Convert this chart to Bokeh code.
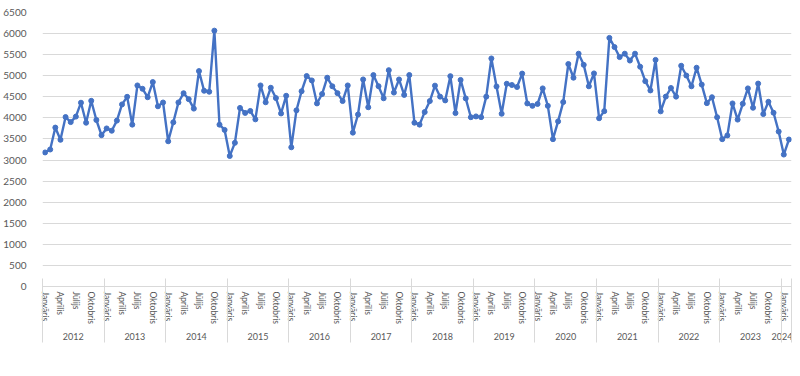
from bokeh.plotting import figure
from bokeh.models import FixedTicker, LinearAxis, Range1d
from bokeh.embed import file_html
from bokeh.resources import INLINE

month_names = ["Janvāris", "Februāris", "Marts", "Aprīlis", "Maijs", "Jūnijs",
               "Jūlijs", "Augusts", "Septembris", "Oktobris", "Novembris", "Decembris"]
shown_months = ["Janvāris", "Aprīlis", "Jūlijs", "Oktobris"]
years = [2012, 2013, 2014, 2015, 2016, 2017, 2018, 2019, 2020, 2021, 2022, 2023, 2024]

v2012 = [3180, 3250, 3770, 3480, 4020, 3900, 4030, 4360, 3885, 4405, 3950, 3590]
v2013 = [3750, 3695, 3935, 4320, 4500, 3840, 4770, 4690, 4490, 4850, 4275, 4365]
v2014 = [3445, 3895, 4367, 4585, 4445, 4220, 5110, 4643, 4620, 6070, 3840, 3715]
v2015 = [3096, 3408, 4236, 4118, 4165, 3965, 4770, 4370, 4715, 4470, 4105, 4525]
v2016 = [3302, 4179, 4632, 4993, 4888, 4343, 4566, 4953, 4749, 4587, 4399, 4770]
v2017 = [3650, 4080, 4912, 4252, 5015, 4752, 4465, 5132, 4600, 4912, 4545, 5017]
v2018 = [3885, 3840, 4138, 4399, 4765, 4504, 4415, 4990, 4114, 4900, 4462, 4016]
v2019 = [4035, 4018, 4504, 5410, 4745, 4098, 4810, 4780, 4733, 5051, 4343, 4285]
v2020 = [4330, 4700, 4285, 3495, 3917, 4375, 5278, 4953, 5523, 5258, 4749, 5055]
v2021 = [3991, 4160, 5898, 5680, 5442, 5523, 5360, 5523, 5213, 4871, 4651, 5376]
v2022 = [4155, 4505, 4709, 4504, 5237, 5005, 4749, 5190, 4790, 4350, 4490, 4016]
v2023 = [3495, 3585, 4343, 3959, 4335, 4700, 4240, 4814, 4090, 4382, 4122, 3675]
v2024 = [3130, 3487]

values = (v2012 + v2013 + v2014 + v2015 + v2016 + v2017 + v2018 + v2019 +
          v2020 + v2021 + v2022 + v2023 + v2024)
n = len(values)
x = list(range(n))
month_of = [month_names[i % 12] for i in x]
year_of = [years[i // 12] for i in x]

TEXT = "#595959"
GRID = "#d9d9d9"
BLUE = "#4472C4"
FONT = "Lato"

p = figure(width=792, height=368, output_backend="svg", toolbar_location=None,
           x_range=Range1d(-0.5, n - 0.5), y_range=Range1d(0, 6500),
           min_border_left=34, min_border_right=1, min_border_top=12,
           min_border_bottom=82, x_axis_location=None)
p.outline_line_color = None
p.background_fill_color = "white"
p.border_fill_color = "white"

p.line(x, values, line_color=BLUE, line_width=2.4)
p.scatter(x, values, size=5, fill_color=BLUE, line_color=BLUE)

# y axis
p.yaxis.ticker = FixedTicker(ticks=list(range(0, 6501, 500)))
p.yaxis.axis_line_color = None
p.yaxis.major_tick_line_color = None
p.yaxis.minor_tick_line_color = None
p.yaxis.major_label_standoff = 10
p.yaxis.major_label_text_font = FONT
p.yaxis.major_label_text_font_size = "10px"
p.yaxis.major_label_text_color = TEXT
p.ygrid.ticker = FixedTicker(ticks=list(range(0, 6501, 500)))
p.ygrid.grid_line_color = GRID
p.xgrid.grid_line_color = None

# month labels
month_ticks = [i for i in x if month_of[i] in shown_months]
boundaries = [i * 12 - 0.5 for i in range(len(years))] + [n - 0.5]
ax1 = LinearAxis(ticker=FixedTicker(ticks=month_ticks))
ax1.major_label_overrides = {i: month_of[i] for i in month_ticks}
ax1.major_label_orientation = "vertical"
ax1.major_label_standoff = 5
ax1.major_label_text_font = FONT
ax1.major_label_text_font_size = "8.5px"
ax1.major_label_text_color = TEXT
ax1.major_tick_line_color = None
ax1.major_tick_out = 0
ax1.major_tick_in = 0
ax1.minor_tick_line_color = None
ax1.axis_line_color = GRID
p.add_layout(ax1, "below")

# year labels
year_ticks = []
for yr in years:
    idx = [i for i in x if year_of[i] == yr]
    year_ticks.append((idx[0] + idx[-1]) / 2)
ax2 = LinearAxis(ticker=FixedTicker(ticks=year_ticks))
ax2.major_label_overrides = {t: str(yr) for t, yr in zip(year_ticks, years)}
ax2.major_label_standoff = 6
ax2.major_label_text_font = FONT
ax2.major_label_text_font_size = "9px"
ax2.major_label_text_color = TEXT
ax2.major_tick_line_color = None
ax2.major_tick_out = 0
ax2.minor_tick_line_color = None
ax2.axis_line_color = None
p.add_layout(ax2, "below")

# year separators (inward minor ticks reaching up to the plot frame)
ax3 = LinearAxis(ticker=FixedTicker(ticks=[], minor_ticks=boundaries))
ax3.major_tick_line_color = None
ax3.minor_tick_line_color = GRID
ax3.minor_tick_out = 0
ax3.minor_tick_in = 64
ax3.axis_line_color = None
p.add_layout(ax3, "below")

open("out.html", "w").write(file_html(p, INLINE))
